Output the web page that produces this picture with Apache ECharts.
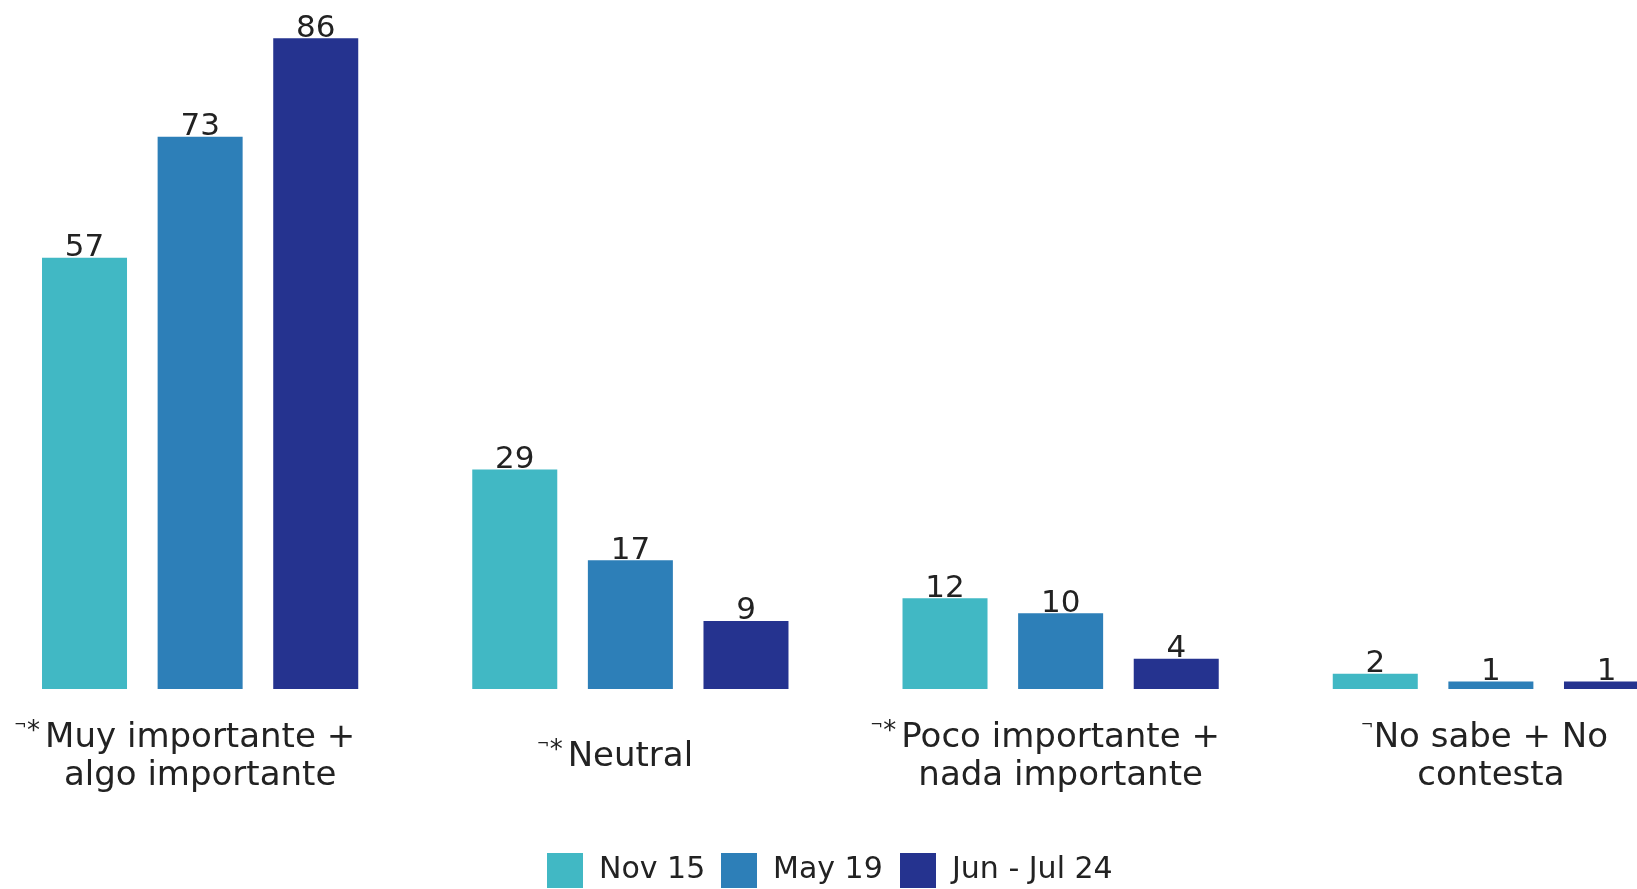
<!DOCTYPE html>
<html>
<head>
<meta charset="utf-8">
<script src="https://cdn.jsdelivr.net/npm/echarts@6/dist/echarts.min.js"></script>
<style>
  html, body { margin: 0; padding: 0; background: #fff; }
  #chart { width: 1637px; height: 889px; }
</style>
</head>
<body>
<div id="chart"></div>
<script>
// categories, marks before each label, and the three survey waves
var categories = ['Muy importante +\nalgo importante', 'Neutral', 'Poco importante +\nnada importante', 'No sabe + No\ncontesta'];
var marks = ['¬*', '¬*', '¬*', '¬'];
var seriesNames = ['Nov 15', 'May 19', 'Jun - Jul 24'];
var nov15 = [57, 29, 12, 2];
var may19 = [73, 17, 10, 1];
var junJul24 = [86, 9, 4, 1];
var colors = ['#41B8C4', '#2D7FB8', '#25338F'];
var legendLeft = [547, 721, 900];

var font = 'DejaVu Sans';
var chart = echarts.init(document.getElementById('chart'));

function catLabel(value, i) {
  var lines = value.split('\n');
  var m = marks[i];
  var pre = '{crn|' + m.charAt(0) + '}' + (m.length > 1 ? '{ast|*}' : '');
  var pad = '{' + (m.length > 1 ? 'pd' : 'pd1') + '| }';
  var first = pre + lines[0] + pad;
  return lines.length > 1 ? first + '\n' + lines[1] : first;
}

function barSeries(name, data, color) {
  return {
    name: name,
    type: 'bar',
    data: data,
    barGap: '36%',
    barCategoryGap: '26.5%',
    itemStyle: { color: color },
    label: {
      show: true,
      position: 'top',
      distance: -6,
      color: '#222',
      fontFamily: font,
      fontSize: 31
    }
  };
}

var legends = seriesNames.map(function (name, i) {
  return {
    left: legendLeft[i],
    top: 853,
    padding: 0,
    itemWidth: 36,
    itemHeight: 35,
    icon: 'rect',
    textStyle: { fontFamily: font, fontSize: 30, color: '#222', padding: [0, 0, 0, 11] },
    data: [name]
  };
});

var option = {
  animation: false,
  color: colors,
  grid: { left: -15, right: -69, top: 8, bottom: 200, containLabel: false, outerBoundsMode: 'none' },
  legend: legends,
  xAxis: {
    type: 'category',
    data: categories,
    axisLine: { show: false },
    axisTick: { show: false },
    axisLabel: {
      interval: 0,
      margin: 68,
      verticalAlign: 'middle',
      lineHeight: 38,
      color: '#222',
      fontFamily: font,
      fontSize: 34,
      formatter: catLabel,
      rich: {
        crn: { fontSize: 15, width: 13, align: 'left', verticalAlign: 'top', color: '#222', fontFamily: font },
        ast: { fontSize: 26, width: 18, align: 'left', verticalAlign: 'top', color: '#222', fontFamily: font },
        pd: { width: 31 },
        pd1: { width: 13 }
      }
    }
  },
  yAxis: {
    type: 'value',
    min: 0,
    max: 90,
    show: false,
    splitLine: { show: false }
  },
  series: [
    barSeries(seriesNames[0], nov15, colors[0]),
    barSeries(seriesNames[1], may19, colors[1]),
    barSeries(seriesNames[2], junJul24, colors[2])
  ]
};

chart.setOption(option);
</script>
</body>
</html>
